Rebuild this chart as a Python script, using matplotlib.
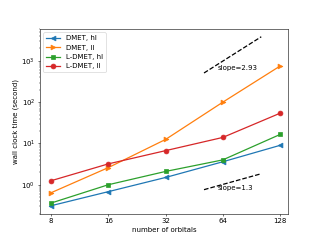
import matplotlib
matplotlib.use("Agg")
import matplotlib.pyplot as plt

orbitals = [8, 16, 32, 64, 128]
dmet_hl = [0.31, 0.68, 1.5, 3.6, 9.0]
dmet_ll = [0.64, 2.6, 12.5, 100, 750]
ldmet_hl = [0.36, 1.0, 2.1, 4.0, 16.5]
ldmet_ll = [1.25, 3.2, 6.7, 14, 54]

slope_hi_x = [51, 102]
slope_hi_y = [510, 3850]
slope_lo_x = [51, 102]
slope_lo_y = [0.76, 1.85]

fig, ax = plt.subplots(figsize=(6.4, 4.8), dpi=50)
style = dict(lw=1.8, ms=7)
ax.plot(orbitals, dmet_hl, marker="<", label="DMET, hl", **style)
ax.plot(orbitals, dmet_ll, marker=">", label="DMET, ll", **style)
ax.plot(orbitals, ldmet_hl, marker="s", label="L-DMET, hl", **style)
ax.plot(orbitals, ldmet_ll, marker="o", label="L-DMET, ll", **style)
ax.plot(slope_hi_x, slope_hi_y, "k--", lw=1.8)
ax.plot(slope_lo_x, slope_lo_y, "k--", lw=1.8)
ax.text(77, 680, "slope=2.93", ha="center", va="center")
ax.text(75, 0.85, "slope=1.3", ha="center", va="center")

ax.set_xscale("log", base=2)
ax.set_yscale("log")
ax.set_xticks(orbitals)
ax.set_xticklabels([str(o) for o in orbitals])
ax.set_xlim(7.0, 141)
ax.set_ylim(0.2, 6000)
ax.set_xlabel("number of orbitals")
ax.set_ylabel("wall clock time (second)")
ax.legend(loc="upper left")
fig.savefig("out.png", dpi=50)
